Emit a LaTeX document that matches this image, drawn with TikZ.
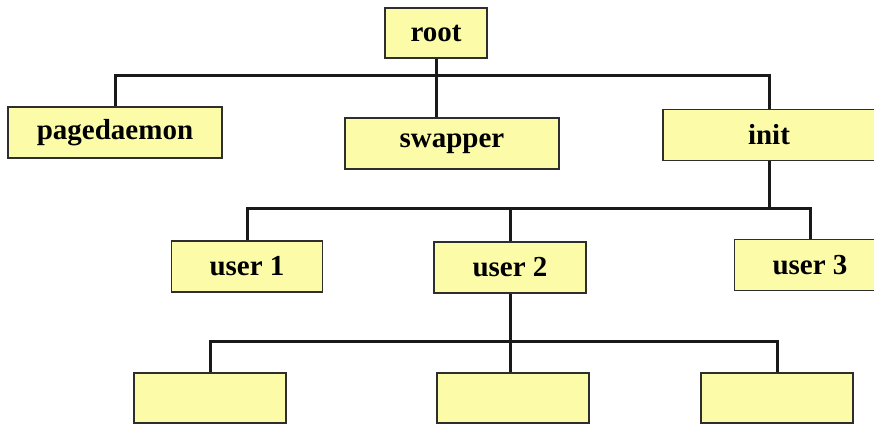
\documentclass[tikz,border=0pt]{standalone}
\usepackage{fontspec}
\usepackage{tikz}
\usepackage{xcolor}
\setmainfont{Liberation Serif}

\definecolor{boxfill}{HTML}{FCFCA8}
\definecolor{boxline}{HTML}{2E2E2E}

\begin{document}
\begin{tikzpicture}[
  x=1pt, y=-1pt,
  every node/.style={draw=boxline,fill=boxfill,line width=1.8pt,inner sep=0pt,
    minimum height=51pt,font=\fontsize{29}{29}\selectfont\bfseries},
  edge/.style={line width=3pt,black!90}
  ]
  \useasboundingbox (0,0) rectangle (874,424);

  % top level
  \node[minimum width=102pt,minimum height=50pt] (root) at (436,33) {root};
  \node[minimum width=214pt] (pagedaemon) at (115,132.5) {pagedaemon};
  \node[minimum width=214pt] (swapper)    at (452,143.5) {swapper};
  \node[minimum width=212pt] (init)       at (769,135)   {init};

  % users
  \node[minimum width=151pt] (user1) at (247,266.5) {user 1};
  \node[minimum width=152pt] (user2) at (510,267.5) {user 2};
  \node[minimum width=151pt] (user3) at (810,265)   {user 3};

  % children of user 2
  \node[minimum width=152pt,minimum height=50pt] (child1) at (210,398) {};
  \node[minimum width=152pt,minimum height=50pt] (child2) at (513,398) {};
  \node[minimum width=152pt,minimum height=50pt] (child3) at (777,398) {};

  \coordinate (bar1) at (436,75);
  \coordinate (bar2) at (769,208);
  \coordinate (bar3) at (510,341);

  \draw[edge] (root.south) -- (swapper.north -| root);
  \draw[edge] (pagedaemon.north) |- (bar1) -| (init.north);

  \draw[edge] (init.south) -- (bar2);
  \draw[edge] (user1.north) |- (bar2) -| (user3.north);
  \draw[edge] (user2.north) -- (user2 |- bar2);

  \draw[edge] (user2.south) -- (child2.north -| user2);
  \draw[edge] (child1.north) |- (bar3) -| (child3.north);
\end{tikzpicture}
\end{document}
